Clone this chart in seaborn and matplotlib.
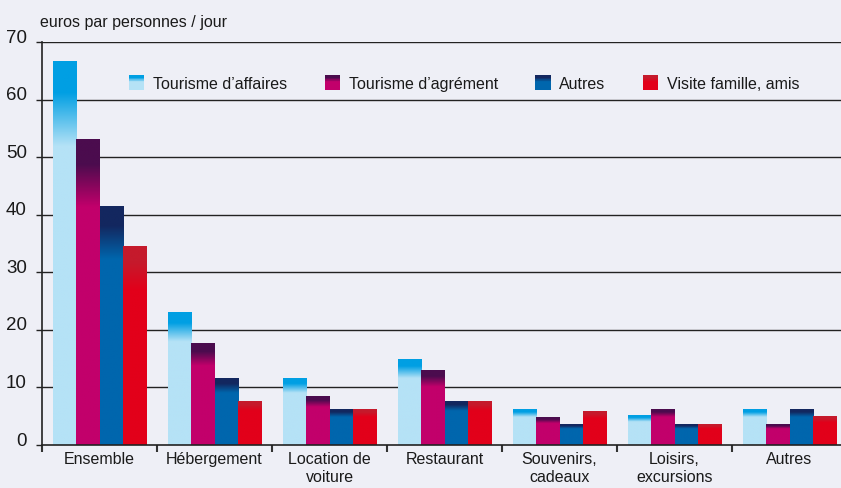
import numpy as np
import pandas as pd
import matplotlib
matplotlib.use("Agg")
import matplotlib.pyplot as plt
import seaborn as sns
from matplotlib.colors import to_rgba
from matplotlib.patches import Rectangle
from matplotlib.transforms import ScaledTranslation

# Données (euros par personne et par jour)
categories = ["Ensemble", "Hébergement", "Location de\nvoiture", "Restaurant",
              "Souvenirs,\ncadeaux", "Loisirs,\nexcursions", "Autres"]
series = ["Tourisme d’affaires", "Tourisme d’agrément", "Autres", "Visite famille, amis"]
affaires = [66.6, 23.1, 11.6, 14.8, 6.1, 5.2, 6.1]
agrement = [53.0, 17.7, 8.5, 12.9, 4.7, 6.2, 3.5]
autres = [41.5, 11.6, 6.2, 7.6, 3.5, 3.6, 6.1]
visite = [34.5, 7.5, 6.2, 7.6, 5.9, 3.6, 5.0]

# couleurs : base (bas de barre) et haut du dégradé
base_colors = ["#b5e2f6", "#c2006b", "#0066ad", "#e2001a"]
top_colors = ["#009fe3", "#4b0c4e", "#13275f", "#c51a2c"]
bg = "#eeeff6"

df = pd.DataFrame({
    "cat": categories * 4,
    "serie": [s for s in series for _ in categories],
    "val": affaires + agrement + autres + visite,
})

sns.set_theme(style="white")
plt.rcParams["font.family"] = ["Liberation Sans", "DejaVu Sans"]
plt.rcParams["text.color"] = "#1a1a1a"

fig = plt.figure(figsize=(8.41, 4.89), dpi=100, facecolor=bg)
ax = fig.add_axes([42 / 841, 43 / 489, 805 / 841, 403 / 489])
ax.set_facecolor(bg)

sns.barplot(data=df, x="cat", y="val", hue="serie", hue_order=series,
            palette=base_colors, saturation=1, width=0.81, linewidth=0,
            legend=False, ax=ax)


def gradient(base, top, n=200, solid=0.08, fade=0.22):
    b = np.array(to_rgba(base))
    t = np.array(to_rgba(top))
    f = np.linspace(0, 1, n)  # 0 = haut de la barre
    w = np.clip((f - solid) / (fade - solid), 0, 1)[:, None]
    return (t * (1 - w) + b * w)[:, None, :]


# dégradé sur chaque barre
base_rgba = [to_rgba(c) for c in base_colors]
for p in list(ax.patches):
    fc = p.get_facecolor()
    idx = int(np.argmin([np.sum((np.array(fc) - np.array(c)) ** 2) for c in base_rgba]))
    x, w, h = p.get_x(), p.get_width(), p.get_height()
    if h <= 0:
        continue
    ax.imshow(gradient(base_colors[idx], top_colors[idx]), extent=[x, x + w, 0, h],
              origin="upper", aspect="auto", interpolation="bilinear", zorder=2)

ax.set_xlim(-0.5, 6.5)
ax.set_ylim(0, 70)
ax.set_yticks(range(0, 80, 10))
ax.set_xlabel("")
ax.set_ylabel("")

# grille horizontale
for yv in range(10, 80, 10):
    ax.axhline(yv, color="#222222", lw=1.0, zorder=0.5)

for s in ["top", "right"]:
    ax.spines[s].set_visible(False)
for s in ["left", "bottom"]:
    ax.spines[s].set_color("#222222")
    ax.spines[s].set_linewidth(1.2)

ax.tick_params(axis="y", direction="out", length=4, width=1, color="#222222",
               labelsize=13.5, pad=7, left=True, labelcolor="#1a1a1a")
ax.tick_params(axis="x", which="major", length=0, labelsize=11.5, pad=4,
               labelcolor="#1a1a1a")
ax.set_xticks(np.arange(-0.5, 7, 1), minor=True)
ax.tick_params(axis="x", which="minor", direction="out", length=5, width=1.5,
               color="#333333", bottom=True)
for lab in ax.get_yticklabels():
    lab.set_transform(lab.get_transform() + ScaledTranslation(0, 5 / 72, fig.dpi_scale_trans))
for lab in ax.get_xticklabels():
    lab.set_linespacing(1.3)

fig.text(40 / 841, 1 - 22 / 489, "euros par personnes / jour", fontsize=11.5,
         va="center", ha="left")


# légende avec carrés dégradés
class GradHandler:
    def __init__(self, base, top):
        self.base, self.top = base, top

    def legend_artist(self, legend, orig_handle, fontsize, handlebox):
        x0, y0 = -handlebox.xdescent, -handlebox.ydescent
        w, h = handlebox.width, handlebox.height
        g = gradient(self.base, self.top, n=24, solid=0.15, fade=0.45)[:, 0, :]
        n = len(g)
        arts = []
        for i, c in enumerate(g):
            r = Rectangle((x0, y0 + h * (1 - (i + 1) / n)), w, h / n * 1.05, facecolor=c,
                          edgecolor="none", transform=handlebox.get_transform())
            handlebox.add_artist(r)
            arts.append(r)
        return arts[0]


handles = [Rectangle((0, 0), 1, 1) for _ in series]
hmap = {h: GradHandler(b, t) for h, b, t in zip(handles, base_colors, top_colors)}
ax.legend(handles, series, handler_map=hmap, ncol=4, loc="center left",
          bbox_to_anchor=((129 - 42) / 805, (446 - 84) / 403), frameon=False,
          fontsize=11.5, handlelength=0.95, handleheight=1.05, handletextpad=0.55,
          columnspacing=2.35, borderpad=0, borderaxespad=0)

fig.savefig("out.png", dpi=100, facecolor=bg)
